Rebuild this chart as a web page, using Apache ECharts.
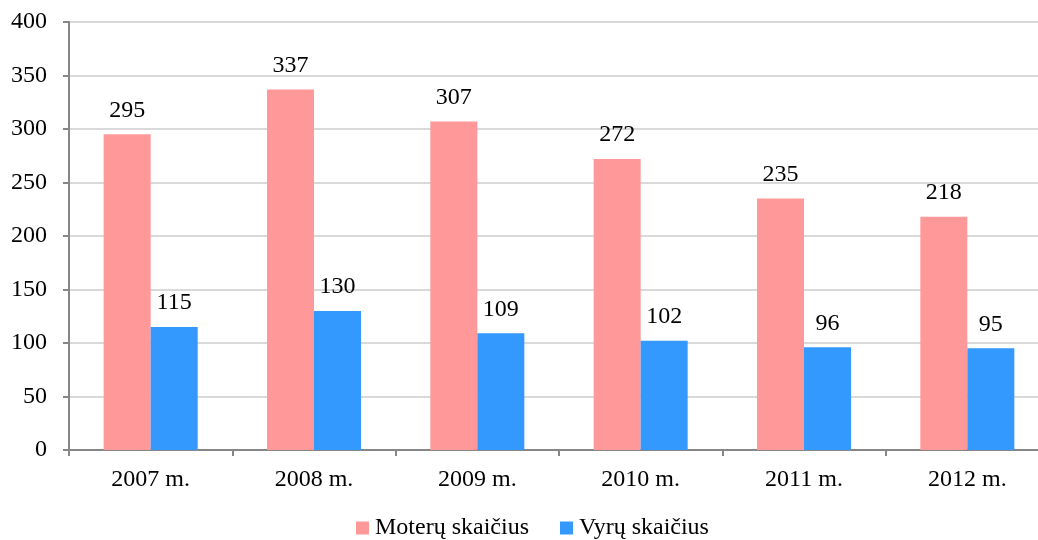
<!DOCTYPE html>
<html>
<head>
<meta charset="utf-8">
<script src="https://cdn.jsdelivr.net/npm/echarts@6/dist/echarts.min.js"></script>
<style>html,body{margin:0;padding:0;background:#fff;overflow:hidden}#c{width:1060px;height:540px}</style>
</head>
<body>
<div id="c"></div>
<script>
var categories = ['2007 m.', '2008 m.', '2009 m.', '2010 m.', '2011 m.', '2012 m.'];
var women = [295, 337, 307, 272, 235, 218];
var men = [115, 130, 109, 102, 96, 95];
var seriesNames = ['Moterų skaičius', 'Vyrų skaičius'];

var font = '"Liberation Serif", "Times New Roman", serif';
var chart = echarts.init(document.getElementById('c'));
var lbl = {show: true, position: 'top', distance: 12, color: '#000', fontFamily: font, fontSize: 24};
chart.setOption({
  animation: false,
  textStyle: {fontFamily: font},
  grid: {left: 69, top: 22, width: 980, bottom: 90, containLabel: false},
  legend: {
    bottom: 0, left: 356, itemWidth: 13, itemHeight: 13, itemGap: 31,
    icon: 'rect', padding: [5, 0, 0, 0],
    textStyle: {fontFamily: font, fontSize: 24, color: '#000', padding: [0, 0, 0, 1]},
    data: seriesNames
  },
  xAxis: {
    type: 'category', data: categories,
    axisLine: {lineStyle: {color: '#868686', width: 2}},
    axisTick: {show: true, length: 6, lineStyle: {color: '#868686', width: 2}},
    axisLabel: {color: '#000', fontFamily: font, fontSize: 24, margin: 18}
  },
  yAxis: {
    type: 'value', min: 0, max: 400, interval: 50,
    axisLine: {show: true, lineStyle: {color: '#868686', width: 2}},
    axisTick: {show: true, length: 6, lineStyle: {color: '#868686', width: 2}},
    axisLabel: {color: '#000', fontFamily: font, fontSize: 24, margin: 22},
    splitLine: {lineStyle: {color: '#d9d9d9', width: 2}}
  },
  series: [
    {name: seriesNames[0], type: 'bar', data: women, barWidth: 47, barGap: '0%',
     itemStyle: {color: '#FF9999'}, label: lbl},
    {name: seriesNames[1], type: 'bar', data: men, barWidth: 47, barGap: '0%',
     itemStyle: {color: '#3399FF'}, label: lbl}
  ]
});
</script>
</body>
</html>
